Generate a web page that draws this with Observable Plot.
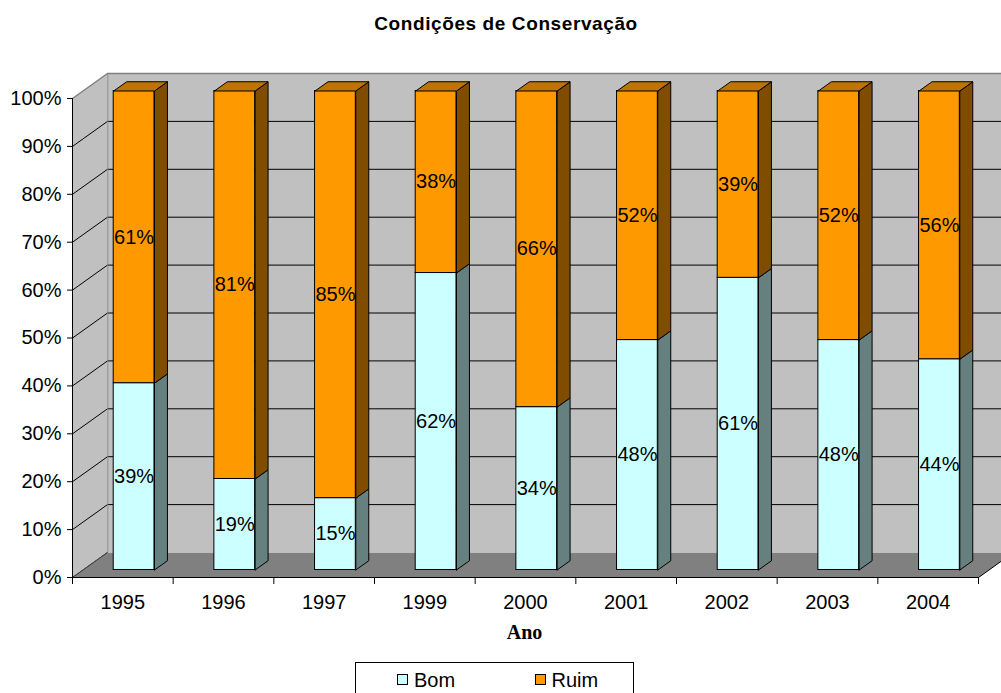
<!DOCTYPE html>
<html>
<head>
<meta charset="utf-8">
<script src="https://cdn.jsdelivr.net/npm/d3@7"></script>
<script src="https://cdn.jsdelivr.net/npm/@observablehq/plot@0.6"></script>
<style>
  html, body { margin: 0; padding: 0; background: #fff; overflow: hidden; }
  #wrap { position: relative; width: 1001px; height: 693px; overflow: hidden; font-family: "Liberation Sans", Arial, sans-serif; }
  #chart { position: absolute; left: 0; top: 0; }
  #title { position: absolute; left: 0; top: 14px; width: 1012px; text-align: center;
           font-family: "Liberation Sans", Arial, sans-serif;
           font-weight: bold; font-size: 19px; line-height: 19px; letter-spacing: 0.6px; color: #000; }
  #legend { position: absolute; left: 355px; top: 662px; width: 279px; height: 40px;
            box-sizing: border-box; border: 1px solid #000; background: #fff; }
  .item { position: absolute; top: 0; height: 30px; font-size: 20px; line-height: 20px; }
  .sw { position: absolute; top: 11px; width: 11px; height: 11px; box-sizing: border-box; border: 1px solid #000; }
  .lab { position: absolute; top: 7px; white-space: nowrap; }
</style>
</head>
<body>
<div id="wrap">
  <div id="chart"></div>
  <div id="title">Condições de Conservação</div>
  <div id="legend"></div>
</div>
<script>
// Conservation condition per year, share of "Bom" and "Ruim" (percent)
const years = ["1995", "1996", "1997", "1999", "2000", "2001", "2002", "2003", "2004"];
const bom  = [39, 19, 15, 62, 34, 48, 61, 48, 44];
const ruim = [61, 81, 85, 38, 66, 52, 39, 52, 56];
const seriesNames = ["Bom", "Ruim"];
const frontColors = ["#CCFFFF", "#FF9900"];
const sideColors  = ["#668080", "#7F4C00"];
const topColors   = ["#99BFBF", "#BF7300"];
const yTicks = [0, 10, 20, 30, 40, 50, 60, 70, 80, 90, 100];

// Layout of the plot frame and of the fake 3-D depth
const W = 1001, H = 693, ML = 72, MR = 23, MT = 98, MB = 116;
const DEPTH_X = 35, DEPTH_Y = 25;          // pixel offset of the back wall
const F0 = 0.3, F1 = 0.67;                 // bar front / back as fraction of depth
const BAR_L = 0.305, BAR_R = 0.71;         // bar front face within its category
const n = years.length;
const kx = (W - ML - MR) / n;              // pixels per x unit
const ky = (H - MT - MB) / 100;            // pixels per percent
const DXu = DEPTH_X / kx, DYu = DEPTH_Y / ky;
const P = (x, y, f) => ({x: x + f * DXu, y: y + f * DYu});

// Stacked segments
const segs = [];
years.forEach((yr, i) => {
  const vals = [bom[i], ruim[i]];
  let acc = 0;
  vals.forEach((v, s) => {
    segs.push({i, s, year: yr, v, y1: acc, y2: acc + v, x1: i + BAR_L, x2: i + BAR_R});
    acc += v;
  });
});

// Polygons for side and top faces
function polys(list, builder) {
  const out = [];
  list.forEach((d, k) => builder(d).forEach(p => out.push({...p, id: k})));
  return out;
}
const sideFace = d => {
  const pts = [P(d.x2, d.y1, F0), P(d.x2, d.y1, F1), P(d.x2, d.y2, F1), P(d.x2, d.y2, F0)];
  return [...pts, pts[0]];
};
const topFace = d => {
  const pts = [P(d.x1, d.y2, F0), P(d.x2, d.y2, F0), P(d.x2, d.y2, F1), P(d.x1, d.y2, F1)];
  return [...pts, pts[0]];
};
const bySeries = s => segs.filter(d => d.s === s);
const topSegs = segs.filter(d => d.y2 === 100);

// Walls and floor
const sideWall = [P(0, 0, 0), P(0, 100, 0), P(0, 100, 1), P(0, 0, 1), P(0, 0, 0)];
const floor = [P(0, 0, 0), P(n, 0, 0), P(n, 0, 1), P(0, 0, 1), P(0, 0, 0)];
const wallGrid = yTicks.filter(v => v < 100).map(v => ({a: P(0, v, 0), b: P(0, v, 1)}));

const faceMarks = [];
[0, 1].forEach(s => {
  faceMarks.push(Plot.rect(bySeries(s), {
    x1: "x1", x2: "x2", y1: "y1", y2: "y2",
    dx: F0 * DEPTH_X, dy: -F0 * DEPTH_Y,
    fill: frontColors[s], stroke: "#000", strokeWidth: 1
  }));
  faceMarks.push(Plot.line(polys(bySeries(s), sideFace), {
    x: "x", y: "y", z: "id", fill: sideColors[s], stroke: "#000", strokeWidth: 1, strokeLinejoin: "miter"
  }));
  const tops = topSegs.filter(d => d.s === s);
  if (tops.length) faceMarks.push(Plot.line(polys(tops, topFace), {
    x: "x", y: "y", z: "id", fill: topColors[s], stroke: "#000", strokeWidth: 1, strokeLinejoin: "miter"
  }));
});

const chart = Plot.plot({
  width: W, height: H,
  marginLeft: ML, marginRight: MR, marginTop: MT, marginBottom: MB,
  x: {type: "linear", domain: [0, n]},
  y: {type: "linear", domain: [0, 100]},
  style: {fontFamily: "'Liberation Sans', Arial, sans-serif", fontSize: "20px", color: "#000", background: "transparent"},
  marks: [
    // back wall
    Plot.rect([0], {x1: 0, x2: n, y1: 0, y2: 100, dx: DEPTH_X, dy: -DEPTH_Y, fill: "#C0C0C0"}),
    Plot.ruleY(yTicks.filter(v => v > 0 && v < 100), {x1: 0, x2: n, dx: DEPTH_X, dy: -DEPTH_Y, stroke: "#000", strokeWidth: 1}),
    Plot.ruleY([100], {x1: 0, x2: n, dx: DEPTH_X, dy: -DEPTH_Y, stroke: "#808080", strokeWidth: 1.5}),
    Plot.ruleX([0], {y1: 0, y2: 100, dx: DEPTH_X, dy: -DEPTH_Y, stroke: "#808080", strokeWidth: 1.5}),
    // side wall
    Plot.line(sideWall, {x: "x", y: "y", fill: "#C0C0C0", stroke: "none"}),
    Plot.link(wallGrid, {x1: d => d.a.x, y1: d => d.a.y, x2: d => d.b.x, y2: d => d.b.y, stroke: "#000", strokeWidth: 1}),
    Plot.link([0], {x1: P(0, 100, 0).x, y1: P(0, 100, 0).y, x2: P(0, 100, 1).x, y2: P(0, 100, 1).y, stroke: "#808080", strokeWidth: 1.5}),
    // floor
    Plot.line(floor, {x: "x", y: "y", fill: "#808080", stroke: "none"}),
    Plot.link([0], {x1: P(n, 0, 0).x, y1: P(n, 0, 0).y, x2: P(n, 0, 1).x, y2: P(n, 0, 1).y, stroke: "#000", strokeWidth: 1}),
    Plot.link([0], {x1: P(0, 0, 0).x, y1: P(0, 0, 0).y, x2: P(0, 0, 1).x, y2: P(0, 0, 1).y, stroke: "#404040", strokeWidth: 1}),
    // bars
    ...faceMarks,
    // value labels on the front faces
    Plot.text(segs, {
      x: d => d.i + (BAR_L + BAR_R) / 2, y: d => (d.y1 + d.y2) / 2,
      text: d => d.v + "%", dx: F0 * DEPTH_X, dy: -F0 * DEPTH_Y,
      fontSize: 20, fill: "#000"
    }),
    // axes
    Plot.ruleY([0], {x1: 0, x2: n, stroke: "#000", strokeWidth: 1}),
    Plot.ruleX([0], {y1: 0, y2: 100, stroke: "#000", strokeWidth: 1}),
    Plot.axisY({ticks: yTicks, tickFormat: d => d + "%", tickSize: 5, tickPadding: 6, fontSize: 20, label: null}),
    Plot.axisX({ticks: d3.range(n + 1), tickFormat: () => "", tickSize: 7, label: null}),
    Plot.axisX({ticks: years.map((_, i) => i + 0.5), tickFormat: v => years[Math.floor(v)], tickSize: 0, tickPadding: 17, fontSize: 20, label: null}),
    Plot.text(["Ano"], {frameAnchor: "bottom", dx: -1, dy: 61, text: d => d, fontFamily: "'Liberation Serif', 'Times New Roman', serif", fontWeight: "bold", fontSize: 20, fill: "#000"})
  ]
});
document.getElementById("chart").appendChild(chart);

// legend
const legend = document.getElementById("legend");
seriesNames.forEach((name, s) => {
  const item = document.createElement("div");
  item.className = "item";
  item.style.left = (41 + s * 137.5) + "px";
  const sw = document.createElement("div");
  sw.className = "sw";
  sw.style.left = "0px";
  sw.style.background = frontColors[s];
  const lab = document.createElement("div");
  lab.className = "lab";
  lab.style.left = "17px";
  lab.textContent = name;
  item.appendChild(sw);
  item.appendChild(lab);
  legend.appendChild(item);
});
</script>
</body>
</html>
